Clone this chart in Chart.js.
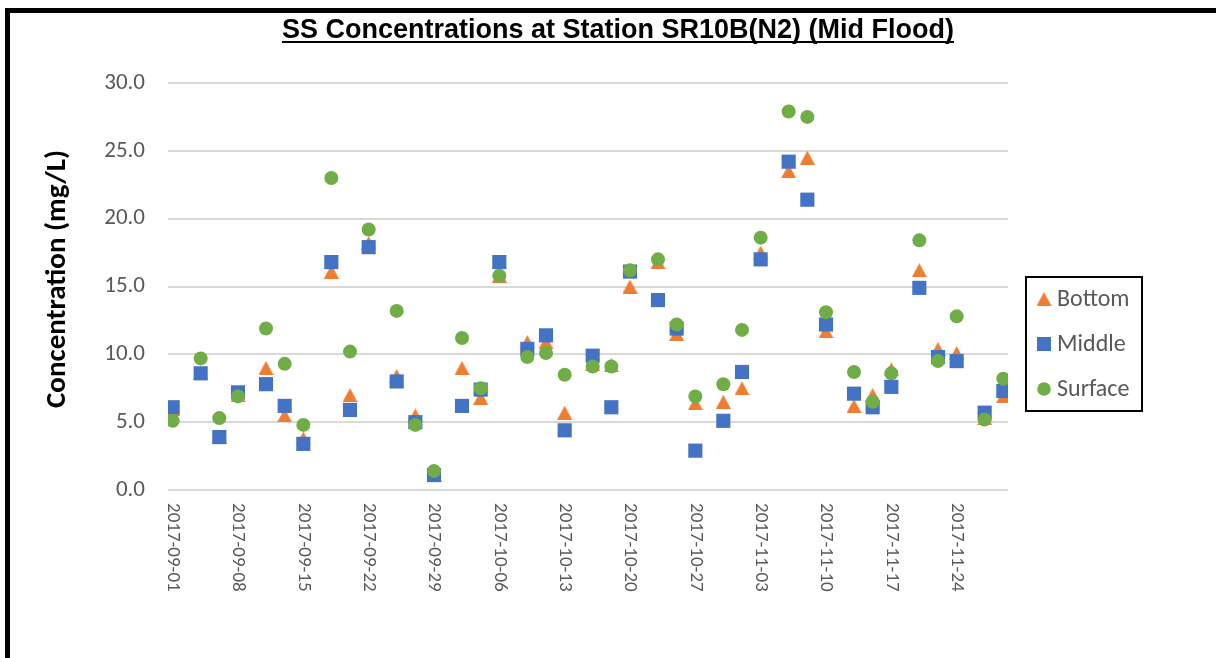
<!DOCTYPE html>
<html>
<head>
<meta charset="utf-8">
<script src="https://cdn.jsdelivr.net/npm/chart.js@4.4.1/dist/chart.umd.min.js"></script>
<style>
  html, body { margin: 0; padding: 0; background: #fff; }
  #wrap { position: relative; width: 1216px; height: 658px; overflow: hidden; }
  #frame { position: absolute; left: 5px; top: 8px; width: 1300px; height: 800px;
           border-left: 5px solid #000; border-top: 5px solid #000; pointer-events: none; }
  canvas { position: absolute; left: 0; top: 0; }
</style>
</head>
<body>
<div id="wrap">
  <canvas id="chart" width="1216" height="658"></canvas>
  <div id="frame"></div>
</div>
<script>
const titleText = 'SS Concentrations at Station SR10B(N2) (Mid Flood)';
const yTitle = 'Concentration (mg/L)';

const sampleDates = [
  '2017-09-01', '2017-09-04', '2017-09-06', '2017-09-08', '2017-09-11', '2017-09-13',
  '2017-09-15', '2017-09-18', '2017-09-20', '2017-09-22', '2017-09-25', '2017-09-27',
  '2017-09-29', '2017-10-02', '2017-10-04', '2017-10-06', '2017-10-09', '2017-10-11',
  '2017-10-13', '2017-10-16', '2017-10-18', '2017-10-20', '2017-10-23', '2017-10-25',
  '2017-10-27', '2017-10-30', '2017-11-01', '2017-11-03', '2017-11-06', '2017-11-08',
  '2017-11-10', '2017-11-13', '2017-11-15', '2017-11-17', '2017-11-20', '2017-11-22',
  '2017-11-24', '2017-11-27', '2017-11-29'
];
const bottom = [
  6.0, 8.6, 3.9, 7.0, 9.0, 5.5, 3.8, 16.1, 7.0, 18.2, 8.4, 5.5,
  1.1, 9.0, 6.8, 15.8, 10.9, 10.9, 5.7, 9.3, 9.2, 15.0, 16.8, 11.5,
  6.4, 6.5, 7.5, 17.5, 23.5, 24.5, 11.7, 6.2, 7.0, 8.9, 16.2, 10.4,
  10.1, 5.3, 6.9
];
const middle = [
  6.1, 8.6, 3.9, 7.2, 7.8, 6.2, 3.4, 16.8, 5.9, 17.9, 8.0, 5.0,
  1.1, 6.2, 7.4, 16.8, 10.4, 11.4, 4.4, 9.9, 6.1, 16.1, 14.0, 11.9,
  2.9, 5.1, 8.7, 17.0, 24.2, 21.4, 12.2, 7.1, 6.1, 7.6, 14.9, 9.8,
  9.5, 5.7, 7.3
];
const surface = [
  5.1, 9.7, 5.3, 6.9, 11.9, 9.3, 4.8, 23.0, 10.2, 19.2, 13.2, 4.8,
  1.4, 11.2, 7.5, 15.8, 9.8, 10.1, 8.5, 9.1, 9.1, 16.2, 17.0, 12.2,
  6.9, 7.8, 11.8, 18.6, 27.9, 27.5, 13.1, 8.7, 6.5, 8.6, 18.4, 9.5,
  12.8, 5.2, 8.2
];
const xTickLabels = [
  '2017-09-01', '2017-09-08', '2017-09-15', '2017-09-22', '2017-09-29', '2017-10-06',
  '2017-10-13', '2017-10-20', '2017-10-27', '2017-11-03', '2017-11-10', '2017-11-17',
  '2017-11-24'
];

const ORANGE = '#ED7D31', BLUE = '#4472C4', GREEN = '#70AD47';
const TEXT = '#595959';
const FONT = 'Calibri, Carlito, Lato, sans-serif';

// dates become day numbers counted from the first sample
const day0 = Date.parse(sampleDates[0]);
const toDay = s => Math.round((Date.parse(s) - day0) / 864e5);
const series = vals => sampleDates.map((d, i) => ({ x: toDay(d), y: vals[i] }));

// triangle marker drawn into its own small canvas so it sits centred on the point
function triangleImage(w, h, color) {
  const c = document.createElement('canvas');
  c.width = w; c.height = h;
  const g = c.getContext('2d');
  g.fillStyle = color;
  g.beginPath();
  g.moveTo(w / 2, 0);
  g.lineTo(w, h);
  g.lineTo(0, h);
  g.closePath();
  g.fill();
  return c;
}
const tri = triangleImage(15, 14, ORANGE);

function drawMarker(ctx, style, x, y) {
  if (style === 'triangle') {
    ctx.drawImage(tri, x - 7.5, y - 7);
  } else if (style === 'rect') {
    ctx.fillStyle = BLUE;
    ctx.fillRect(x - 7, y - 7, 14, 14);
  } else {
    ctx.fillStyle = GREEN;
    ctx.beginPath();
    ctx.arc(x, y, 6.8, 0, Math.PI * 2);
    ctx.fill();
  }
}

const decorations = {
  id: 'decorations',
  afterDraw(chart) {
    const ctx = chart.ctx;
    ctx.save();

    // underlined title
    ctx.font = 'bold 27px "Liberation Sans", Arial, sans-serif';
    ctx.fillStyle = '#000';
    ctx.textAlign = 'center';
    ctx.textBaseline = 'alphabetic';
    const tx = 618, ty = 38;
    ctx.fillText(titleText, tx, ty);
    const tw = ctx.measureText(titleText).width;
    ctx.fillRect(tx - tw / 2, ty + 3, tw, 2);

    // value axis title
    ctx.save();
    ctx.font = 'bold 29px ' + FONT;
    ctx.textBaseline = 'middle';
    ctx.translate(58, 279);
    ctx.rotate(-Math.PI / 2);
    ctx.fillText(yTitle, 0, 0);
    ctx.restore();

    // date labels, reading downwards under the axis
    const xs = chart.scales.x;
    ctx.font = '19px ' + FONT;
    ctx.fillStyle = TEXT;
    ctx.textAlign = 'left';
    ctx.textBaseline = 'middle';
    xTickLabels.forEach(lbl => {
      const px = xs.getPixelForValue(toDay(lbl));
      ctx.save();
      ctx.translate(px, xs.top + 13);
      ctx.rotate(Math.PI / 2);
      ctx.fillText(lbl, 0, 0);
      ctx.restore();
    });

    // legend box
    ctx.lineWidth = 2;
    ctx.strokeStyle = '#000';
    ctx.strokeRect(1026, 277, 116, 134);
    const items = [['triangle', 'Bottom'], ['rect', 'Middle'], ['circle', 'Surface']];
    ctx.font = '24px ' + FONT;
    items.forEach(([st, name], i) => {
      const y = 299 + i * 45;
      drawMarker(ctx, st, 1044, y);
      ctx.fillStyle = TEXT;
      ctx.fillText(name, 1057, y + 1);
    });
    ctx.restore();
  }
};

new Chart(document.getElementById('chart'), {
  type: 'scatter',
  data: {
    datasets: [
      { label: 'Bottom', data: series(bottom), pointStyle: tri, order: 2,
        backgroundColor: ORANGE, borderColor: ORANGE },
      { label: 'Middle', data: series(middle), pointStyle: 'rect', pointRadius: 10, order: 1,
        backgroundColor: BLUE, borderColor: BLUE, borderWidth: 0 },
      { label: 'Surface', data: series(surface), pointStyle: 'circle', pointRadius: 7, order: 0,
        backgroundColor: GREEN, borderColor: GREEN, borderWidth: 0 }
    ]
  },
  options: {
    responsive: false,
    animation: false,
    layout: { padding: { top: 83, right: 208, bottom: 140, left: 0 } },
    plugins: {
      legend: { display: false },
      tooltip: { enabled: false },
      title: { display: false }
    },
    scales: {
      x: {
        type: 'linear',
        min: -0.5,
        max: 89.5,
        afterBuildTicks: s => { s.ticks = xTickLabels.map(l => ({ value: toDay(l) })); },
        afterFit: s => { s.height = 28; },
        ticks: { display: false },
        grid: { display: false },
        border: { display: false }
      },
      y: {
        min: 0,
        max: 30,
        afterFit: s => { s.width = 168; },
        ticks: {
          stepSize: 5,
          padding: 23,
          color: TEXT,
          font: { family: FONT, size: 23 },
          callback: v => v.toFixed(1)
        },
        grid: { color: '#D9D9D9', lineWidth: 2, drawTicks: false },
        border: { display: false }
      }
    }
  },
  plugins: [decorations]
});
</script>
</body>
</html>
